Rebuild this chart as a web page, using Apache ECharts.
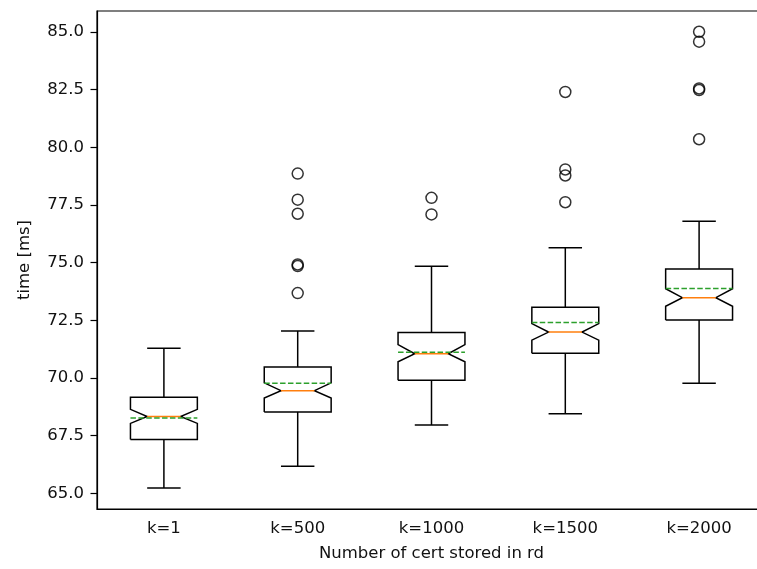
<!DOCTYPE html>
<html>
<head>
<meta charset="utf-8">
<script src="https://cdn.jsdelivr.net/npm/echarts@6/dist/echarts.min.js"></script>
<style>
  html, body { margin: 0; padding: 0; background: #fff; overflow: hidden; }
  /* the original figure is cropped on the right, so the chart is drawn wider than the window */
  #chart { width: 780px; height: 569px; }
</style>
</head>
<body>
<div id="chart"></div>
<script>
// --- Data ---
const categories = ['k=1', 'k=500', 'k=1000', 'k=1500', 'k=2000'];
const whiskerLow = [65.23, 66.17, 67.96, 68.45, 69.77];
const q1 = [67.33, 68.53, 69.90, 71.07, 72.51];
const notchLow = [68.03, 69.13, 70.70, 71.64, 73.11];
const median = [68.33, 69.45, 71.05, 71.99, 73.48];
const notchHigh = [68.64, 69.79, 71.45, 72.36, 73.87];
const q3 = [69.16, 70.48, 71.97, 73.07, 74.73];
const whiskerHigh = [71.29, 72.04, 74.84, 75.65, 76.80];
const means = [68.27, 69.77, 71.12, 72.40, 73.88];
const outliers = [
    [],
    [78.86, 77.73, 77.12, 74.92, 74.85, 73.68],
    [77.81, 77.09],
    [82.40, 79.04, 78.78, 77.62],
    [85.01, 84.58, 82.55, 82.48, 80.35],
];
const yTicks = [65.0, 67.5, 70.0, 72.5, 75.0, 77.5, 80.0, 82.5, 85.0];

const FONT = 'DejaVu Sans';
const FS = 16.5;
const TXT = '#111';
const ORANGE = '#ff7f0e', GREEN = '#2ca02c';
const LW = 1.5;

const boxData = categories.map((c, i) => [
    i, whiskerLow[i], q1[i], notchLow[i], median[i], notchHigh[i], q3[i], whiskerHigh[i], means[i]
]);
const flierData = [];
outliers.forEach((vals, i) => vals.forEach(v => flierData.push([i, v])));

function renderBox(params, api) {
    const i = api.value(0);
    const band = api.size([1, 0])[0];
    const half = band * 0.25;     // box width = half the band
    const notchHalf = band * 0.125;
    const pt = v => api.coord([i, v]);
    const cx = pt(api.value(4))[0];
    const y = k => pt(api.value(k))[1];
    const [yLo, yQ1, yCiLo, yMed, yCiHi, yQ3, yHi, yMean] = [1, 2, 3, 4, 5, 6, 7, 8].map(y);
    const L = cx - half, R = cx + half, nl = cx - notchHalf, nr = cx + notchHalf;
    const stroke = { stroke: '#000', lineWidth: LW, fill: null };
    const line = (x1, y1, x2, y2, style) => ({
        type: 'line', shape: { x1, y1, x2, y2 }, style: Object.assign({}, stroke, style || {})
    });
    return {
        type: 'group',
        children: [
            line(cx, yQ1, cx, yLo),
            line(cx, yQ3, cx, yHi),
            line(nl, yLo, nr, yLo),
            line(nl, yHi, nr, yHi),
            {
                type: 'polyline',
                shape: {
                    points: [[L, yQ1], [R, yQ1], [R, yCiLo], [nr, yMed], [R, yCiHi], [R, yQ3],
                        [L, yQ3], [L, yCiHi], [nl, yMed], [L, yCiLo], [L, yQ1]]
                },
                style: Object.assign({}, stroke, { lineJoin: 'miter' })
            },
            line(nl, yMed, nr, yMed, { stroke: ORANGE }),
            line(L, yMean, R, yMean, { stroke: GREEN, lineDash: [5.5, 2.4] }),
        ]
    };
}

const chart = echarts.init(document.getElementById('chart'), null, { renderer: 'canvas' });
chart.setOption({
    animation: false,
    grid: {
        left: 97, right: 14, top: 11, bottom: 60,
        show: true, borderColor: '#000', borderWidth: 1.2, backgroundColor: 'transparent'
    },
    xAxis: {
        type: 'category', data: categories, boundaryGap: true,
        name: 'Number of cert stored in rd', nameLocation: 'middle', nameGap: 36,
        nameTextStyle: { fontFamily: FONT, fontSize: FS, color: TXT },
        axisLine: { lineStyle: { color: '#000', width: 1.2 } },
        axisTick: { alignWithLabel: true, length: 6.5, lineStyle: { color: '#000', width: 1.2 } },
        axisLabel: { fontFamily: FONT, fontSize: FS, color: TXT, margin: 11 },
        splitLine: { show: false },
    },
    yAxis: {
        type: 'value', min: 64.32, max: 85.91,
        name: 'time [ms]', nameLocation: 'middle', nameGap: 64, nameRotate: 90,
        nameTextStyle: { fontFamily: FONT, fontSize: FS, color: TXT },
        axisLine: { show: true, lineStyle: { color: '#000', width: 1.2 } },
        axisTick: { show: true, length: 6.5, customValues: yTicks, lineStyle: { color: '#000', width: 1.2 } },
        axisLabel: {
            fontFamily: FONT, fontSize: FS, color: TXT, margin: 13,
            customValues: yTicks, formatter: v => v.toFixed(1)
        },
        splitLine: { show: false },
    },
    series: [
        {
            type: 'custom', renderItem: renderBox, data: boxData,
            encode: { x: 0, y: [1, 2, 3, 4, 5, 6, 7, 8] }, z: 2,
        },
        {
            type: 'scatter', data: flierData, symbol: 'circle', symbolSize: 11,
            itemStyle: { color: 'none', borderColor: '#000', borderWidth: 1.5 }, z: 3,
        },
    ],
});
</script>
</body>
</html>
